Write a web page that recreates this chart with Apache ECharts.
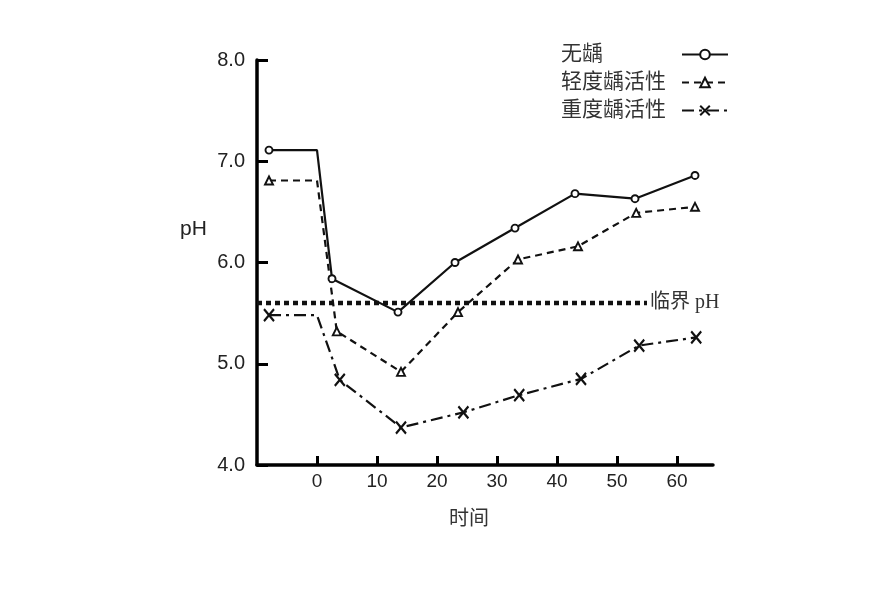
<!DOCTYPE html>
<html><head><meta charset="utf-8">
<script src="https://cdn.jsdelivr.net/npm/echarts@6/dist/echarts.min.js"></script>
<style>html,body{margin:0;padding:0;background:#fff}#c{width:886px;height:592px}</style>
</head><body><div id="c"></div>
<script>
const seriesNames = ['无龋', '轻度龋活性', '重度龋活性'];
const xNone = [-8, 0, 2.5, 13.5, 23, 33, 43, 53, 63];
const yNone = [7.11, 7.11, 5.84, 5.51, 6.0, 6.34, 6.68, 6.63, 6.86];
const xMild = [-8, 0, 3.3, 14, 23.5, 33.5, 43.5, 53.2, 63];
const yMild = [6.81, 6.81, 5.32, 4.92, 5.51, 6.03, 6.16, 6.49, 6.55];
const xSevere = [-8, 0, 3.8, 14, 24.4, 33.7, 44, 53.7, 63.2];
const ySevere = [5.48, 5.48, 4.84, 4.37, 4.52, 4.69, 4.85, 5.18, 5.26];
const hiddenMarkerIndex = 1;
const criticalPH = 5.6;
const criticalRange = [-10, 55];
const criticalLabel = '临界 pH';
const xTicks = [0, 10, 20, 30, 40, 50, 60];
const yTicks = [4, 5, 6, 7, 8];
const xTitle = '时间';
const yTitle = 'pH';

function build(xs, ys) {
  return xs.map((x, i) => i === hiddenMarkerIndex ? { value: [x, ys[i]], symbol: 'none' } : [x, ys[i]]);
}
const serif = "'Liberation Serif','Noto Sans CJK SC'";
const sans = "'Liberation Sans','Noto Sans CJK SC'";
const chart = echarts.init(document.getElementById('c'));
const common = {
  type: 'line', symbolSize: 8, z: 3,
  itemStyle: { color: '#fff', borderColor: '#111', borderWidth: 1.9 },
};
chart.setOption({
  animation: false,
  backgroundColor: '#fff',
  grid: { left: 257, right: 173, top: 60, bottom: 127 },
  legend: {
    orient: 'vertical', left: 556, top: 39, align: 'right',
    data: seriesNames, itemWidth: 46, itemHeight: 12, itemGap: 7,
    formatter: n => '{t|' + n + '}',
    textStyle: { rich: { t: { fontFamily: serif, fontSize: 21, color: '#333', width: 116, align: 'left' } } },
  },
  xAxis: {
    type: 'value', min: -10, max: 66, interval: 10,
    splitLine: { show: false },
    axisLine: { onZero: false, lineStyle: { color: '#000', width: 3.5 } },
    axisTick: { inside: true, length: 9, lineStyle: { color: '#000', width: 3 }, customValues: xTicks },
    axisLabel: { fontFamily: sans, fontSize: 19, color: '#222', margin: 7, customValues: xTicks },
  },
  yAxis: {
    type: 'value', min: 4, max: 8, interval: 1,
    splitLine: { show: false },
    axisLine: { show: true, onZero: false, lineStyle: { color: '#000', width: 3.5 } },
    axisTick: { show: true, inside: true, length: 11, lineStyle: { color: '#000', width: 3 }, customValues: yTicks },
    axisLabel: { fontFamily: sans, fontSize: 20, color: '#222', margin: 12, customValues: yTicks,
      formatter: v => v.toFixed(1) },
  },
  graphic: [
    { type: 'text', left: 180, top: 219, style: { text: yTitle, font: "21px 'Liberation Sans'", fill: '#222' } },
    { type: 'text', left: 449, top: 507, style: { text: xTitle, font: "20px 'Noto Sans CJK SC'", fill: '#333' } },
  ],
  series: [
    Object.assign({}, common, {
      name: seriesNames[0], symbol: 'circle', symbolSize: 7,
      lineStyle: { color: '#111', width: 2.2, type: 'solid' },
      data: build(xNone, yNone),
    }),
    Object.assign({}, common, {
      name: seriesNames[1], symbol: 'triangle', symbolSize: 8,
      lineStyle: { color: '#111', width: 2.2, type: [7, 5] },
      data: build(xMild, yMild),
    }),
    Object.assign({}, common, {
      name: seriesNames[2], symbol: 'path://M0,0L10,12M10,0L0,12', symbolSize: [10, 12],
      itemStyle: { color: 'none', borderColor: '#111', borderWidth: 2.3 },
      lineStyle: { color: '#111', width: 2.2, type: [12, 5, 3, 5] },
      data: build(xSevere, ySevere),
    }),
    {
      type: 'line', name: 'critical', symbol: 'none', z: 2, silent: true,
      lineStyle: { color: '#111', width: 4.5, type: [5, 4] },
      data: criticalRange.map(x => [x, criticalPH]),
      endLabel: { show: true, formatter: criticalLabel, fontFamily: serif, fontSize: 20, color: '#333', distance: 3 },
    },
  ],
});
</script></body></html>
